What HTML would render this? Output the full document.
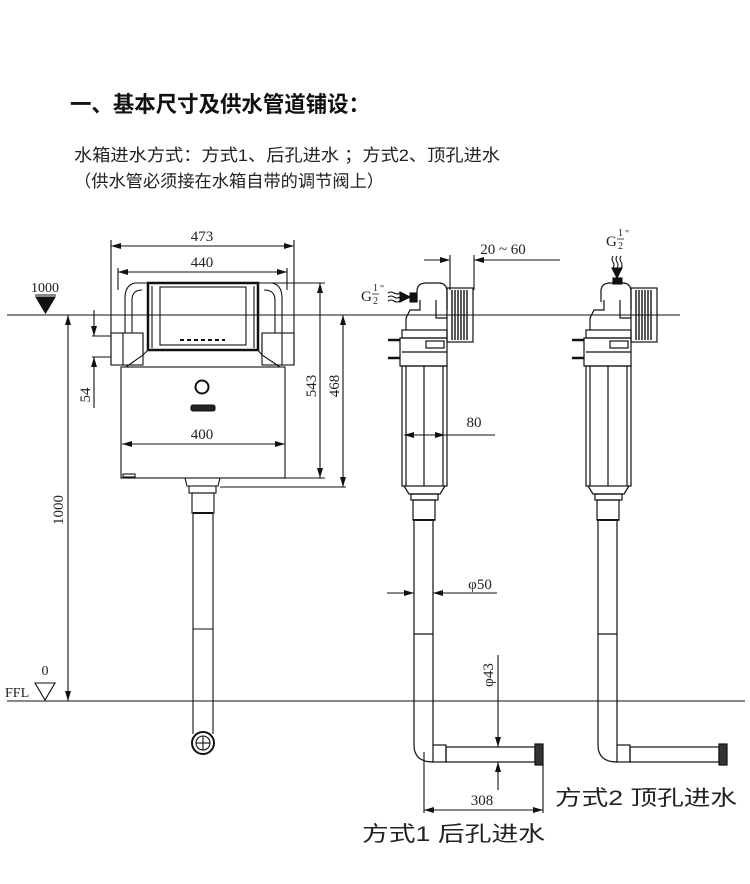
<!DOCTYPE html>
<html><head><meta charset="utf-8"><style>
html,body{margin:0;padding:0;background:#fff;width:750px;height:884px;overflow:hidden}
svg{display:block}
text{font-family:"Liberation Serif","Noto Serif CJK SC",serif;fill:#222}
.cjk{font-family:"Liberation Sans","Noto Sans CJK SC",sans-serif}
</style></head><body>
<svg width="750" height="884" viewBox="0 0 750 884" xmlns="http://www.w3.org/2000/svg">
<defs>
<marker id="a" viewBox="0 0 10 6" refX="10" refY="3" markerWidth="10" markerHeight="6" orient="auto-start-reverse" markerUnits="userSpaceOnUse"><path d="M0,0 L10,3 L0,6 z" fill="#111"/></marker>
<g id="side" fill="none" stroke="#111" stroke-width="1.2">
  <path d="M417,302 L417,290 Q418,283 426,283 L440,283 Q447,284 447,292 L447,310"/>
  <path d="M420,300 L420,310 L410,310 L406,318 L406,330"/>
  <path d="M436,300 L436,318 L447,318"/>
  <rect x="447" y="288" width="26" height="54"/>
  <g stroke-width="1.4">
  <line x1="452" y1="290" x2="452" y2="340"/><line x1="455" y1="290" x2="455" y2="340"/><line x1="458" y1="290" x2="458" y2="340"/>
  <line x1="461" y1="290" x2="461" y2="340"/><line x1="464" y1="290" x2="464" y2="340"/><line x1="467" y1="290" x2="467" y2="340"/>
  </g>
  <rect x="402" y="330" width="45" height="8"/>
  <rect x="400" y="338" width="47" height="28"/>
  <line x1="402" y1="352" x2="447" y2="352"/>
  <rect x="426" y="341" width="18" height="7"/>
  <line x1="388" y1="340" x2="400" y2="340" stroke-width="2.5"/>
  <line x1="388" y1="358" x2="400" y2="358" stroke-width="2.5"/>
  <rect x="402" y="366" width="45" height="120"/>
  <line x1="406" y1="366" x2="406" y2="486"/><line x1="443" y1="366" x2="443" y2="486"/>
  <line x1="424" y1="366" x2="424" y2="486"/>
  <path d="M404,486 L409,494 L440,494 L445,486"/>
  <rect x="411" y="494" width="27" height="6"/>
  <rect x="413" y="500" width="22" height="20"/>
  <line x1="413" y1="520" x2="435" y2="520" stroke-width="2"/>
  <line x1="414" y1="520" x2="414" y2="745"/><line x1="433" y1="520" x2="433" y2="745"/>
  <line x1="414" y1="634" x2="433" y2="634"/>
  <path d="M414,745 Q414,762 433,762"/>
  <rect x="433" y="745" width="13" height="17"/>
  <rect x="446" y="747" width="89" height="15"/>
  <rect x="535" y="744" width="8" height="21" fill="#333"/>
</g>
</defs>

<text class="cjk" x="70" y="112" font-size="22" font-weight="bold" style="fill:#111" textLength="300" lengthAdjust="spacingAndGlyphs">一、基本尺寸及供水管道铺设：</text>
<text class="cjk" x="74" y="161" font-size="17" textLength="426" lengthAdjust="spacingAndGlyphs">水箱进水方式：方式1、后孔进水 ；方式2、顶孔进水</text>
<text class="cjk" x="74" y="187" font-size="17" textLength="310" lengthAdjust="spacingAndGlyphs">（供水管必须接在水箱自带的调节阀上）</text>

<g stroke="#111" stroke-width="1.1" fill="none">
  <line x1="7" y1="315" x2="680" y2="315"/>
  <line x1="7" y1="701" x2="745" y2="701"/>
  <line x1="111" y1="240" x2="111" y2="365"/><line x1="294" y1="240" x2="294" y2="365"/>
  <line x1="111" y1="246" x2="294" y2="246" marker-start="url(#a)" marker-end="url(#a)"/>
  <line x1="118" y1="268" x2="118" y2="290"/><line x1="287" y1="268" x2="287" y2="290"/>
  <line x1="118" y1="272" x2="287" y2="272" marker-start="url(#a)" marker-end="url(#a)"/>
  <line x1="258" y1="283" x2="325" y2="283"/>
  <line x1="320" y1="283" x2="320" y2="478" marker-start="url(#a)" marker-end="url(#a)"/>
  <line x1="285" y1="478" x2="325" y2="478"/>
  <line x1="343" y1="315" x2="343" y2="487" marker-start="url(#a)" marker-end="url(#a)"/>
  <line x1="220" y1="487" x2="346" y2="487"/>
  <line x1="92" y1="336" x2="111" y2="336"/><line x1="92" y1="357" x2="111" y2="357"/>
  <line x1="94" y1="310" x2="94" y2="336" marker-end="url(#a)"/>
  <line x1="94" y1="408" x2="94" y2="357" marker-end="url(#a)"/>
  <line x1="68" y1="315" x2="68" y2="701" marker-start="url(#a)" marker-end="url(#a)"/>
  <line x1="122" y1="444" x2="285" y2="444" marker-start="url(#a)" marker-end="url(#a)"/>
  <rect x="148" y="283" width="110" height="67" stroke-width="2.5"/>
  <rect x="160" y="287" width="86" height="58"/>
  <line x1="152" y1="286" x2="152" y2="348"/><line x1="254" y1="286" x2="254" y2="348"/>
  <line x1="180" y1="340" x2="225" y2="340" stroke-dasharray="4 3" stroke-width="2"/>
  <path d="M148,283 L135,283 Q125,285 125,298 L125,333"/>
  <path d="M142,290 Q132,290 132,300 L132,333"/>
  <path d="M258,283 L272,283 Q282,285 282,298 L282,333"/>
  <path d="M264,290 Q275,290 275,300 L275,333"/>
  <rect x="111" y="333" width="32" height="32"/>
  <rect x="262" y="333" width="32" height="32"/>
  <line x1="123" y1="333" x2="123" y2="365"/><line x1="282" y1="333" x2="282" y2="365"/>
  <path d="M143,333 L143,355 L126,367"/><path d="M148,350 L143,355"/>
  <path d="M262,333 L262,355 L280,367"/><path d="M258,350 L262,355"/>
  <rect x="121" y="367" width="164" height="111"/>
  <rect x="123" y="474" width="12" height="3"/>
  <circle cx="202" cy="387" r="6.5" stroke-width="2"/>
  <rect x="191" y="405" width="24" height="6" rx="2" fill="#222"/>
  <path d="M185,478 L187,486 L218,486 L220,478"/>
  <rect x="189" y="486" width="27" height="7"/>
  <rect x="192" y="493" width="22" height="20"/>
  <line x1="193" y1="513" x2="213" y2="513" stroke-width="2"/>
  <line x1="193" y1="513" x2="193" y2="734"/><line x1="213" y1="513" x2="213" y2="734"/>
  <line x1="193" y1="629" x2="213" y2="629"/>
  <circle cx="203" cy="743" r="11" stroke-width="2"/><circle cx="203" cy="743" r="7"/>
  <line x1="196" y1="743" x2="210" y2="743"/><line x1="203" y1="736" x2="203" y2="750"/>
  <path d="M36,297 L55,297 L45.5,313 z" fill="#111"/>
  <line x1="35" y1="295" x2="56" y2="295"/>
  <path d="M35,683 L55,683 L45,700 z"/>
  <line x1="450" y1="255" x2="450" y2="290"/><line x1="474" y1="255" x2="474" y2="290"/>
  <line x1="424" y1="260" x2="450" y2="260" marker-end="url(#a)"/>
  <line x1="560" y1="260" x2="474" y2="260" marker-end="url(#a)"/>
  <line x1="404" y1="435" x2="445" y2="435" marker-start="url(#a)" marker-end="url(#a)"/>
  <line x1="445" y1="435" x2="495" y2="435"/>
  <line x1="387" y1="593" x2="414" y2="593" marker-end="url(#a)"/>
  <line x1="497" y1="593" x2="433" y2="593" marker-end="url(#a)"/>
  <line x1="498" y1="655" x2="498" y2="747" marker-end="url(#a)"/>
  <line x1="498" y1="790" x2="498" y2="762" marker-end="url(#a)"/>
  <line x1="424" y1="752" x2="424" y2="813"/><line x1="543" y1="765" x2="543" y2="813"/>
  <line x1="424" y1="810" x2="543" y2="810" marker-start="url(#a)" marker-end="url(#a)"/>
  <path d="M388,293 q3,-2 6,0 t6,0 M388,297 q3,-2 6,0 t6,0 M388,301 q3,-2 6,0 t6,0"/>
  <path d="M400,292 L410,297 L400,302 z" fill="#111"/>
  <rect x="410" y="293" width="7" height="9" fill="#111"/>
  <path d="M613,256 q-2,3 0,6 t0,6 M617,256 q-2,3 0,6 t0,6 M621,256 q-2,3 0,6 t0,6"/>
  <path d="M612,268 L622,268 L617,278 z" fill="#111"/>
  <rect x="613" y="278" width="9" height="6" fill="#111"/>
</g>
<use href="#side"/>
<use href="#side" transform="translate(184,0)"/>

<g font-size="15">
  <text x="202" y="241" text-anchor="middle">473</text>
  <text x="202" y="267" text-anchor="middle">440</text>
  <text x="202" y="439" text-anchor="middle">400</text>
  <text x="45" y="292" text-anchor="middle" font-size="14">1000</text>
  <text x="45" y="675" text-anchor="middle" font-size="14">0</text>
  <text x="5" y="697" font-size="14">FFL</text>
  <text transform="translate(316,386) rotate(-90)" text-anchor="middle">543</text>
  <text transform="translate(339,386) rotate(-90)" text-anchor="middle">468</text>
  <text transform="translate(90,395) rotate(-90)" text-anchor="middle">54</text>
  <text transform="translate(63,510) rotate(-90)" text-anchor="middle">1000</text>
  <text x="503" y="254" text-anchor="middle">20 ~ 60</text>
  <text x="474" y="427" text-anchor="middle">80</text>
  <text x="480" y="589" text-anchor="middle">φ50</text>
  <text transform="translate(493,675) rotate(-90)" text-anchor="middle">φ43</text>
  <text x="482" y="805" text-anchor="middle">308</text>
  <text x="361" y="301">G</text><text x="373" y="291" font-size="10">1</text><text x="373" y="304" font-size="10">2</text><text x="380" y="292" font-size="10">"</text>
  <text x="606" y="246">G</text><text x="618" y="236" font-size="10">1</text><text x="618" y="249" font-size="10">2</text><text x="625" y="237" font-size="10">"</text>
</g>
<line x1="372" y1="294" x2="379" y2="294" stroke="#222" stroke-width="0.8"/>
<line x1="617" y1="239" x2="624" y2="239" stroke="#222" stroke-width="0.8"/>
<text class="cjk" x="362" y="841" font-size="21" textLength="183" lengthAdjust="spacingAndGlyphs">方式1 后孔进水</text>
<text class="cjk" x="555" y="805" font-size="21" textLength="182" lengthAdjust="spacingAndGlyphs">方式2 顶孔进水</text>
</svg>
</body></html>
